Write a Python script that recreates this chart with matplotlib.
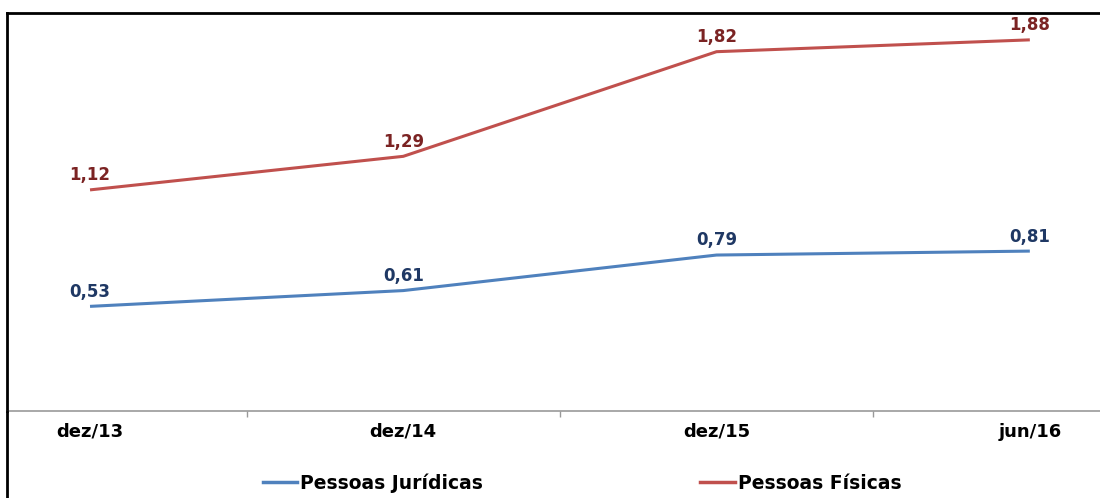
import matplotlib.pyplot as plt
from matplotlib.lines import Line2D

plt.rcParams['font.family'] = ['DejaVu Sans']

categories = ["dez/13", "dez/14", "dez/15", "jun/16"]
juridicas = [0.53, 0.61, 0.79, 0.81]
fisicas = [1.12, 1.29, 1.82, 1.88]

blue = "#4f81bd"
red = "#c0504d"

fig = plt.figure(figsize=(11, 4.98), dpi=100)
ax = fig.add_axes([7 / 1100, (498 - 411) / 498, 1 - 7 / 1100, (411 - 13) / 498])

x = list(range(len(categories)))
ax.plot(x, juridicas, color=blue, lw=2.2, solid_capstyle="butt")
ax.plot(x, fisicas, color=red, lw=2.2, solid_capstyle="butt")

for xi, v in zip(x, juridicas):
    ax.annotate(f"{v:.2f}".replace(".", ","), (xi, v), xytext=(0, 4), textcoords="offset points",
                ha="center", va="bottom", fontsize=12, fontweight="bold", color="#1f3864")
for xi, v in zip(x, fisicas):
    ax.annotate(f"{v:.2f}".replace(".", ","), (xi, v), xytext=(0, 4), textcoords="offset points",
                ha="center", va="bottom", fontsize=12, fontweight="bold", color="#7b2323")

ax.set_xlim(-0.265, 3.224)
ax.set_ylim(0, 2.016)

ax.set_yticks([])
ax.set_xticks([0.5, 1.5, 2.5])
ax.set_xticklabels([])
ax.tick_params(axis="x", length=4, color="#999999", width=1)
for xi, c in zip(x, categories):
    ax.text(xi, -0.06, c, ha="center", va="top", fontsize=13, fontweight="bold",
            transform=ax.transData)

ax.spines["right"].set_visible(False)
ax.spines["bottom"].set_color("#999999")
ax.spines["bottom"].set_linewidth(1.2)
ax.spines["left"].set_color("black")
ax.spines["left"].set_linewidth(2)
ax.spines["top"].set_color("black")
ax.spines["top"].set_linewidth(2)

# left frame continues below the axis
fig.add_artist(Line2D([7 / 1100, 7 / 1100], [0, (498 - 411) / 498], color="black", lw=2,
                      transform=fig.transFigure))

handles = [Line2D([], [], color=blue, lw=2.5), Line2D([], [], color=red, lw=2.5)]
fig.legend(handles, ["Pessoas Jurídicas", "Pessoas Físicas"], loc="center",
           bbox_to_anchor=(582 / 1100, (498 - 483) / 498), ncol=2, frameon=False,
           prop={"size": 13.5, "weight": "bold"}, handlelength=1.85, handletextpad=0.15,
           columnspacing=11.6, borderaxespad=0, borderpad=0)

fig.savefig("out.png", dpi=100)
